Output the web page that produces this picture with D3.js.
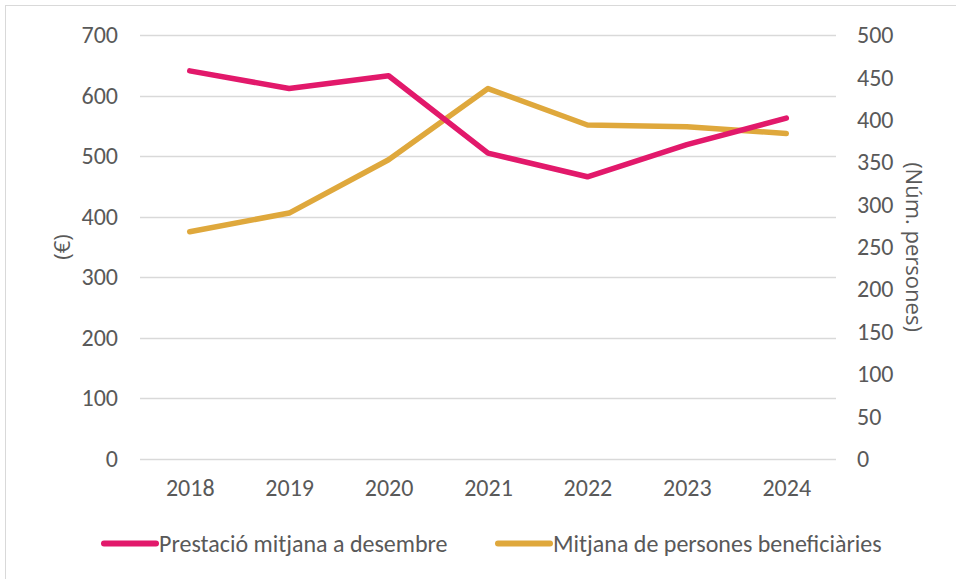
<!DOCTYPE html>
<html>
<head>
<meta charset="utf-8">
<script src="https://cdn.jsdelivr.net/npm/d3@7"></script>
<style>
  html, body { margin: 0; padding: 0; background: #fff; }
  svg { display: block; }
  text { font-family: "Carlito", "Liberation Sans", "Open Sans", sans-serif; fill: #595959; }
  .title { font-family: "Open Sans", "Liberation Sans", sans-serif; }
</style>
</head>
<body>
<svg id="chart" width="956" height="579"></svg>
<script>
// Years on the category axis
const years = ["2018", "2019", "2020", "2021", "2022", "2023", "2024"];
// Average benefit in December (€), left axis
const prestacio = [641, 612, 633, 505, 466, 519, 563];
// Average number of beneficiaries, right axis
const persones = [268, 290, 353, 437, 394, 392, 384];
// Axis ticks
const leftTicks = [0, 100, 200, 300, 400, 500, 600, 700];
const rightTicks = [0, 50, 100, 150, 200, 250, 300, 350, 400, 450, 500];
const seriesNames = ["Prestació mitjana a desembre", "Mitjana de persones beneficiàries"];
const colors = ["#E2196B", "#DFA83C"];

const svg = d3.select("#chart");

// Outer frame
svg.append("rect")
  .attr("x", 5.5).attr("y", 5.5)
  .attr("width", 960).attr("height", 600)
  .attr("fill", "none").attr("stroke", "#d9d9d9").attr("stroke-width", 1);

const plot = { left: 140, right: 836, top: 35.2, bottom: 458.7 };

const x = d3.scalePoint().domain(years).range([plot.left, plot.right]).padding(0.5);
const yL = d3.scaleLinear().domain([0, 700]).range([plot.bottom, plot.top]);
const yR = d3.scaleLinear().domain([0, 500]).range([plot.bottom, plot.top]);

// Gridlines
svg.append("g").selectAll("line").data(leftTicks).join("line")
  .attr("x1", plot.left).attr("x2", plot.right)
  .attr("y1", d => Math.round(yL(d)) + 0.5).attr("y2", d => Math.round(yL(d)) + 0.5)
  .attr("stroke", "#d9d9d9").attr("stroke-width", 1.5);

// Left axis labels
const axL = svg.append("g").attr("transform", `translate(${plot.left - 22},0)`)
  .call(d3.axisLeft(yL).tickValues(leftTicks).tickSize(0).tickPadding(0));
axL.select(".domain").remove();
axL.selectAll("text").style("font-size", "24px").attr("fill", "#595959");

// Right axis labels
const axR = svg.append("g").attr("transform", `translate(${plot.right + 21},0)`)
  .call(d3.axisRight(yR).tickValues(rightTicks).tickSize(0).tickPadding(0));
axR.select(".domain").remove();
axR.selectAll("text").style("font-size", "24px").attr("fill", "#595959");

// Bottom axis labels
const axB = svg.append("g").attr("transform", `translate(0,${plot.bottom + 20})`)
  .call(d3.axisBottom(x).tickSize(0).tickPadding(0));
axB.select(".domain").remove();
axB.selectAll("text").style("font-size", "24px").attr("fill", "#595959");

// Axis titles
svg.append("text").attr("class", "title")
  .attr("transform", "translate(60.5,247) rotate(-90)")
  .attr("text-anchor", "middle").attr("dominant-baseline", "central")
  .style("font-size", "22px").text("(€)");
svg.append("text").attr("class", "title")
  .attr("transform", "translate(915,247) rotate(90)")
  .attr("text-anchor", "middle").attr("dominant-baseline", "central")
  .style("font-size", "22px").text("(Núm. persones)");

// Lines
const lineL = d3.line().x((d, i) => x(years[i])).y(d => yL(d));
const lineR = d3.line().x((d, i) => x(years[i])).y(d => yR(d));

svg.append("path").datum(persones)
  .attr("d", lineR).attr("fill", "none")
  .attr("stroke", colors[1]).attr("stroke-width", 5.5)
  .attr("stroke-linejoin", "round").attr("stroke-linecap", "round");
svg.append("path").datum(prestacio)
  .attr("d", lineL).attr("fill", "none")
  .attr("stroke", colors[0]).attr("stroke-width", 5.5)
  .attr("stroke-linejoin", "round").attr("stroke-linecap", "round");

// Legend
const legendItems = [
  { name: seriesNames[0], color: colors[0], x: 104 },
  { name: seriesNames[1], color: colors[1], x: 498 }
];
const lg = svg.append("g").selectAll("g").data(legendItems).join("g")
  .attr("transform", d => `translate(${d.x},543.5)`);
lg.append("line").attr("x1", 0).attr("x2", 52).attr("y1", 0).attr("y2", 0)
  .attr("stroke", d => d.color).attr("stroke-width", 6).attr("stroke-linecap", "round");
lg.append("text").attr("x", 55).attr("dominant-baseline", "central")
  .style("font-size", "24px").text(d => d.name);
</script>
</body>
</html>
